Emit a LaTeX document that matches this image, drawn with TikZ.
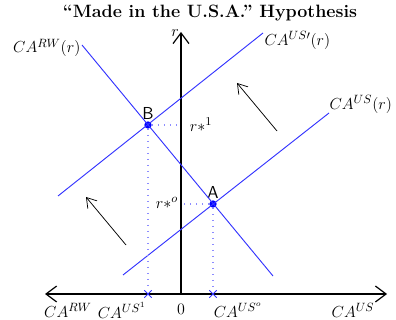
\documentclass[tikz,border=0pt]{standalone}
\usepackage{tikz}
\usetikzlibrary{arrows.meta, positioning, calc, shapes.misc}

\begin{document}
\begin{tikzpicture}[x=0.75pt, y=-0.75pt,
  schedule/.style={blue!80, line width=0.7pt},
  guide/.style={blue!45, line width=0.9pt, dash pattern=on 0.9pt off 3.6pt},
  axisline/.style={line width=0.9pt},
  bigtip/.style={-{Straight Barb[length=8pt,width=12pt]}},
  move/.style={-{Straight Barb[length=7pt,width=9pt]}, line width=0.55pt},
  eq/.style={circle, fill=blue, inner sep=0pt, minimum size=5.5pt},
  xmark/.style={draw=blue!80, cross out, line width=0.6pt, inner sep=0pt, minimum size=5pt},
  lbl/.style={font=\fontsize{12.6}{15}\selectfont}
]
\useasboundingbox (0,0) rectangle (396,320);
\node[font=\fontsize{13.4}{16}\selectfont\bfseries] (title) at (210,13) {``Made in the U.S.A.'' Hypothesis};

% axes
\coordinate (o) at (181,294);
\coordinate (xl) at (45,294);
\coordinate (xr) at (387,294);
\coordinate (yt) at (181,32);
\draw[axisline, {Straight Barb[length=8pt,width=12pt]}-{Straight Barb[length=8pt,width=12pt]}] (xl) -- (xr);
\draw[axisline, bigtip] (o) -- (yt);
\node[font=\fontsize{12}{14}\selectfont] (rlab) at (175,33) {$r$};

% equilibria
\node[eq, label={[font=\sffamily\fontsize{13}{16}\selectfont, inner sep=1pt]above:B}] (B) at (148,125) {};
\node[eq, label={[font=\sffamily\fontsize{13}{16}\selectfont, inner sep=1pt]above:A}] (A) at (213,204) {};

% schedules
\coordinate (rwtop) at (82,45);
\coordinate (rwbot) at (273,276);
\coordinate (usptop) at (263,33);
\coordinate (uspbot) at (58,196);
\coordinate (ustop) at (329,113);
\coordinate (usbot) at (123,275);
\draw[schedule] (rwtop) -- (rwbot);
\draw[schedule] (uspbot) -- (usptop);
\draw[schedule] (usbot) -- (ustop);
\node[lbl, anchor=east, inner sep=1pt] (rwlab) at ($(rwtop)+(0,3)$) {$CA^{RW}(r)$};
\node[lbl, anchor=west, inner sep=1pt] (usplab) at ($(usptop)+(0,7)$) {$CA^{US\prime}(r)$};
\node[lbl, anchor=south west, inner sep=1pt] (uslab) at ($(ustop)+(-1,2)$) {$CA^{US}(r)$};

% guides
\node[xmark] (x1) at (B |- o) {};
\node[xmark] (x0) at (A |- o) {};
\draw[guide] (B) -- (x1);
\draw[guide] (A) -- (x0);
\draw[guide] (B) -- (B -| o);
\draw[guide] (A) -- (A -| o);
\node[lbl, fill=white, inner sep=1pt] (r1) at (201,125) {$r*^1$};
\node[lbl, fill=white, inner sep=1pt] (r0) at (167,203) {$r*^o$};

% shifts
\coordinate (m1s) at (126,245);
\coordinate (m1e) at (86,197);
\coordinate (m2s) at (277,131);
\coordinate (m2e) at (237,83);
\draw[move] (m1s) -- (m1e);
\draw[move] (m2s) -- (m2e);

% axis labels
\node[lbl] (rwx) at (68,310) {$CA^{RW}$};
\node[lbl] (us1x) at (122,310) {$CA^{US^1}$};
\node[lbl] (zero) at (181,309) {$0$};
\node[lbl] (us0x) at (238,310) {$CA^{US^o}$};
\node[lbl] (usx) at (353,310) {$CA^{US}$};
\end{tikzpicture}
\end{document}
